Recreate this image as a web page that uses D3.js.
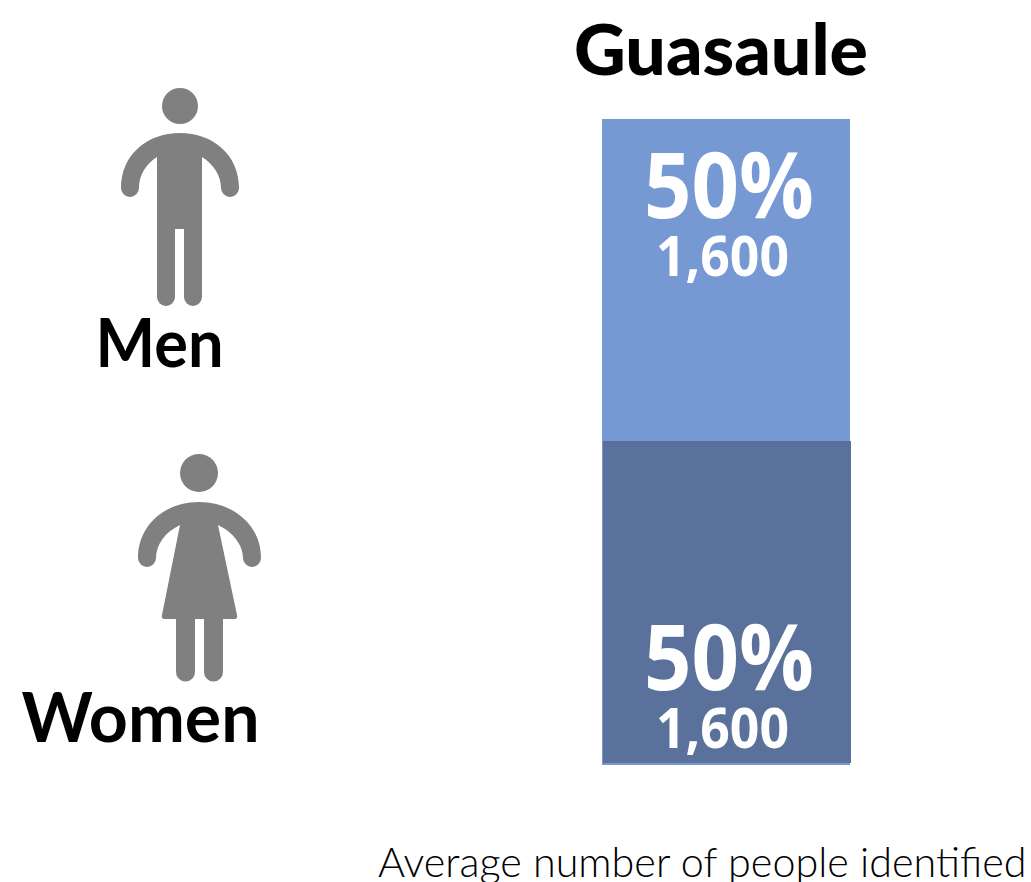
<!DOCTYPE html>
<html>
<head>
<meta charset="utf-8">
<script src="https://cdn.jsdelivr.net/npm/d3@7"></script>
<style>
  html, body { margin: 0; padding: 0; background: #fff; overflow: hidden; }
  text { font-family: Lato, sans-serif; }
</style>
</head>
<body>
<div id="chart"></div>
<script>
// Data
var title = "Guasaule";
var footnote = "Average number of people identified";
var groups = ["Men", "Women"];
var shares = [50, 50];
var counts = [1600, 1600];
var barColors = ["#7698d3", "#5a729b"];

var svg = d3.select("#chart").append("svg")
    .attr("width", 1031)
    .attr("height", 882);

// stacked from the top, men first
var y = d3.scaleLinear().domain([0, 100]).range([119, 763]);
var x = d3.scaleBand().domain([title]).range([602, 850]);

var stack = [];
var running = 0;
groups.forEach(function(g, i) {
  stack.push({group: g, share: shares[i], count: counts[i], start: running, color: barColors[i], index: i});
  running += shares[i];
});

// light edge that shows round the lower block
svg.append("rect")
    .attr("x", x(title))
    .attr("y", y(50))
    .attr("width", x.bandwidth())
    .attr("height", y(100) - y(50) + 2)
    .style("fill", barColors[0]);

svg.selectAll("rect.block")
    .data(stack)
  .enter().append("rect")
    .attr("class", "block")
    .attr("x", function(d) { return x(title) + (d.index ? 1 : 0); })
    .attr("y", function(d) { return y(d.start); })
    .attr("width", x.bandwidth())
    .attr("height", function(d) { return y(d.start + d.share) - y(d.start); })
    .style("fill", function(d) { return d.color; });

// the percent sits high in the top block and low in the bottom one
function labelY(d) { return d.index ? y(100) - 73 : y(0) + 99; }

svg.selectAll("text.pct")
    .data(stack)
  .enter().append("text")
    .attr("class", "pct")
    .attr("x", 729)
    .attr("y", labelY)
    .attr("text-anchor", "middle")
    .attr("textLength", 170)
    .attr("lengthAdjust", "spacingAndGlyphs")
    .style("font-family", "'Open Sans'")
    .style("font-weight", 700)
    .style("font-size", "92px")
    .style("fill", "#fff")
    .text(function(d) { return d.share + "%"; });

svg.selectAll("text.count")
    .data(stack)
  .enter().append("text")
    .attr("class", "count")
    .attr("x", 722.5)
    .attr("y", function(d) { return labelY(d) + 58; })
    .attr("text-anchor", "middle")
    .attr("textLength", 133)
    .attr("lengthAdjust", "spacingAndGlyphs")
    .style("font-family", "'Open Sans'")
    .style("font-weight", 700)
    .style("font-size", "56px")
    .style("fill", "#fff")
    .text(function(d) { return d3.format(",")(d.count); });

svg.append("text")
    .attr("x", 721)
    .attr("y", 75)
    .attr("text-anchor", "middle")
    .attr("textLength", 294)
    .attr("lengthAdjust", "spacingAndGlyphs")
    .style("font-weight", 900)
    .style("font-size", "70px")
    .text(title);

svg.append("text")
    .attr("x", 159.5)
    .attr("y", 367)
    .attr("text-anchor", "middle")
    .attr("textLength", 128)
    .attr("lengthAdjust", "spacingAndGlyphs")
    .style("font-weight", 700)
    .style("font-size", "66px")
    .text(groups[0]);

svg.append("text")
    .attr("x", 140.5)
    .attr("y", 742)
    .attr("text-anchor", "middle")
    .style("font-weight", 700)
    .style("font-size", "68px")
    .text(groups[1]);

svg.append("text")
    .attr("x", 378)
    .attr("y", 877)
    .style("font-weight", 300)
    .style("font-size", "41.3px")
    .text(footnote);

// Icons
var iconGrey = "#808080";

var manPath = "M121,188 C121,155 147,133 180,133 C213,133 239,155 239,188 A9,9 0 0 1 221,188 "
  + "C221,175 213,164 202,157 L202,297 A9,9 0 0 1 184,297 L184,229 L175,229 L175,297 A9,9 0 0 1 157,297 "
  + "L157,157 C146,164 139,175 139,188 A9,9 0 0 1 121,188 Z";

var womanPath = "M138,558 C138,525 165,502 199,502 C233,502 261,525 261,558 A9,9 0 0 1 243,558 "
  + "C243,545 233,532 218,525 L237,615 Q238,619 234,619 L223,619 L223,672 A9.5,9.5 0 0 1 204,672 L204,619 L195,619 "
  + "L195,672 A9.5,9.5 0 0 1 176,672 L176,619 L165,619 Q161,619 162,615 L180,525 "
  + "C165,532 156,545 156,558 A9,9 0 0 1 138,558 Z";

svg.append("circle").attr("cx", 180).attr("cy", 106).attr("r", 18).style("fill", iconGrey);
svg.append("path").attr("d", manPath).style("fill", iconGrey);
svg.append("circle").attr("cx", 199).attr("cy", 473).attr("r", 19).style("fill", iconGrey);
svg.append("path").attr("d", womanPath).style("fill", iconGrey);
</script>
</body>
</html>
